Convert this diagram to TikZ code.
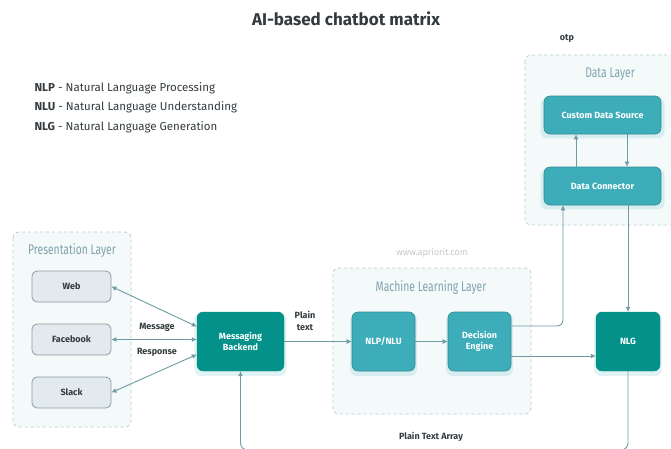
\documentclass[tikz,border=0pt]{standalone}
\usepackage{fontspec}
\setmainfont{Fira Sans}
\newfontfamily\narrowfont[FakeStretch=0.74]{Fira Sans}
\usetikzlibrary{arrows.meta,shadows}

\definecolor{darkteal}{HTML}{04918A}
\definecolor{lightteal}{HTML}{3DAEB9}
\definecolor{linecol}{HTML}{6F9AA3}
\definecolor{layerline}{HTML}{B8CDD3}
\definecolor{layerfill}{HTML}{F4F9FA}
\definecolor{layertext}{HTML}{7FA3AD}
\definecolor{chanfill}{HTML}{E3EAED}
\definecolor{chanline}{HTML}{8A9CA4}
\definecolor{inktext}{HTML}{333B3F}

\tikzset{
  layer/.style={draw=layerline, fill=layerfill, dashed, rounded corners=6pt, line width=0.8pt},
  layertitle/.style={text=layertext, font=\narrowfont\fontsize{14}{16}\selectfont},
  channel/.style={draw=chanline, fill=chanfill, rounded corners=5pt, line width=0.8pt,
    minimum width=79pt, minimum height=31pt, text=inktext, font=\bfseries\fontsize{9}{11}\selectfont},
  block/.style={rounded corners=6pt, text=white, align=center, font=\bfseries\fontsize{9}{11}\selectfont,
    drop shadow={shadow xshift=0pt, shadow yshift=-3pt, shadow scale=1.06, fill=lightteal, opacity=0.15}},
  core/.style={block, fill=darkteal, draw=darkteal},
  mlbox/.style={block, fill=lightteal, draw=lightteal!80!black, line width=0.6pt},
  flow/.style={draw=linecol, line width=0.9pt, -{Latex[length=5pt,width=5pt]}},
  lbl/.style={text=inktext, font=\fontsize{9}{11}\selectfont}
}

\begin{document}
\begin{tikzpicture}[x=1pt, y=-1pt]
  \useasboundingbox (0,0) rectangle (671,448);

  % title and legend
  \node (title) at (346,19) {\bfseries\fontsize{17}{20}\selectfont\color{inktext}AI-based chatbot matrix};
  \node[lbl, anchor=west, font=\fontsize{11.5}{14}\selectfont] (nlp) at (31,88)  {\textbf{NLP} - Natural Language Processing};
  \node[lbl, anchor=west, font=\fontsize{11.5}{14}\selectfont] (nlu) at (31,107) {\textbf{NLU} - Natural Language Understanding};
  \node[lbl, anchor=west, font=\fontsize{11.5}{14}\selectfont] (nlg-def) at (31,127) {\textbf{NLG} - Natural Language Generation};
  \node[lbl, font=\bfseries\fontsize{9}{11}\selectfont] (otp) at (567,39) {otp};
  \node[text=black!22, font=\fontsize{9}{11}\selectfont] (site) at (432,253) {www.apriorit.com};

  % layers
  \draw[layer] (13,232) rectangle (131,427);
  \draw[layer] (333,268) rectangle (531,414);
  \draw[layer] (525,55) rectangle (685,225);
  \node[layertitle] (pres-title) at (72,251)  {Presentation Layer};
  \node[layertitle] (ml-title)   at (431,288) {Machine Learning Layer};
  \node[layertitle] (data-title) at (610,74)  {Data Layer};

  % channels
  \node[channel] (web)   at (71.5,286.5) {Web};
  \node[channel] (fb)    at (71.5,339.5) {Facebook};
  \node[channel] (slack) at (71.5,392.5) {Slack};

  % processing blocks
  \node[core, minimum width=87pt, minimum height=59pt] (mb) at (240.5,341.5) {Messaging\\Backend};
  \node[mlbox, minimum width=63pt, minimum height=59pt] (nlpnlu) at (383.5,341.5) {NLP/NLU};
  \node[mlbox, minimum width=63pt, minimum height=59pt] (de) at (479.5,341.5) {Decision\\Engine};
  \node[core, minimum width=64pt, minimum height=59pt] (nlg) at (628,341.5) {NLG};
  \node[mlbox, minimum width=117pt, minimum height=38pt] (cds) at (602.5,115) {Custom Data Source};
  \node[mlbox, minimum width=117pt, minimum height=38pt] (dc) at (602.5,186) {Data Connector};

  % channels <-> backend
  \draw[flow, {Latex[length=5pt,width=5pt]}-{Latex[length=5pt,width=5pt]}] (web.east) -- ([yshift=15pt]mb.west);
  \draw[flow, {Latex[length=5pt,width=5pt]}-{Latex[length=5pt,width=5pt]}] (fb.east) -- (fb.east -| mb.west);
  \draw[flow, {Latex[length=5pt,width=5pt]}-{Latex[length=5pt,width=5pt]}] (slack.east) -- ([yshift=-13pt]mb.west);
  \node[lbl, font=\bfseries\fontsize{9}{11}\selectfont] (msg) at (157,327) {Message};
  \node[lbl, font=\bfseries\fontsize{9}{11}\selectfont] (resp) at (157,352) {Response};

  % machine learning pipeline
  \draw[flow] (mb.east) -- (nlpnlu.west);
  \node[lbl, align=center, font=\bfseries\fontsize{9}{12.5}\selectfont] (plain) at (305,321) {Plain\\text};
  \draw[flow] (nlpnlu.east) -- (de.west);
  \draw[flow] ([yshift=-14.5pt]de.east) -- ([yshift=-14.5pt]de.east -| nlg.west);
  \draw[flow, rounded corners=6pt] ([yshift=15.5pt]de.east) -| ([xshift=-39.5pt]dc.south);

  % data layer
  \draw[flow] ([xshift=-26.5pt]dc.north) -- ([xshift=-26.5pt]cds.south);
  \draw[flow] ([xshift=24.5pt]cds.south) -- ([xshift=24.5pt]dc.north);
  \draw[flow] (dc.south -| nlg.north) -- (nlg.north);

  % answer back to the backend, runs along the bottom edge
  \coordinate (ret) at (431,450);
  \draw[flow, rounded corners=7pt] (nlg.south) |- (ret) -| (mb.south);
  \node[lbl, font=\bfseries\fontsize{9}{11}\selectfont] (array) at (431,437) {Plain Text Array};
\end{tikzpicture}
\end{document}
